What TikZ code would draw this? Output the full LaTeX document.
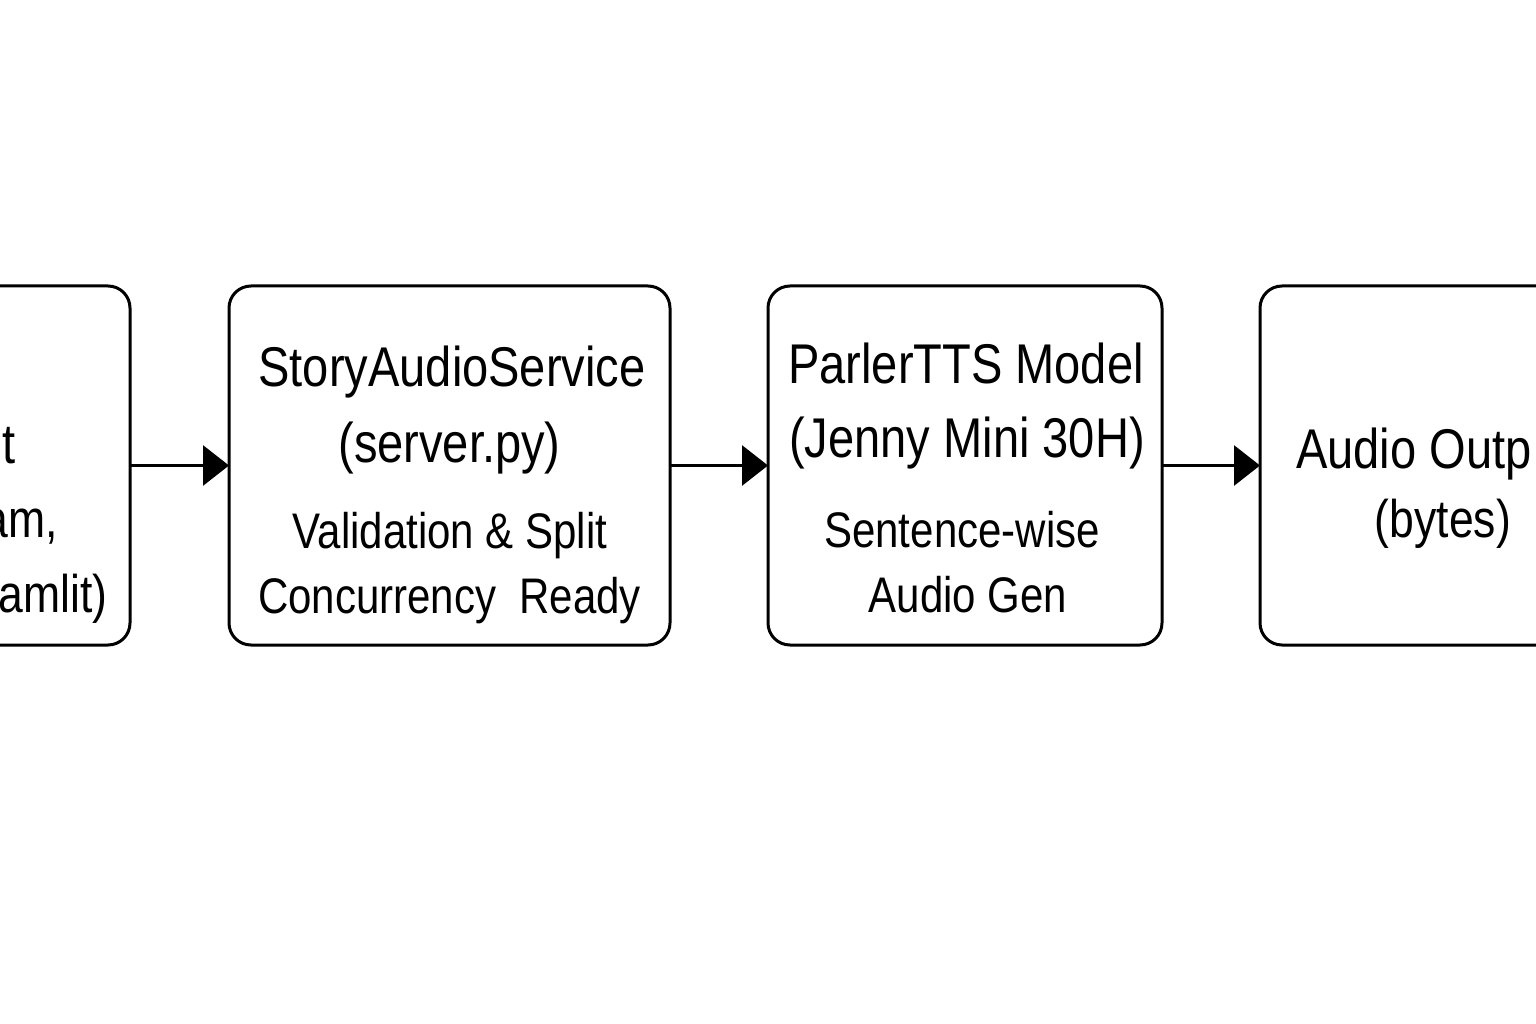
\documentclass[tikz,border=0pt]{standalone}
\usepackage{fontspec}
\setmainfont{Liberation Sans}[FakeStretch=0.84]
\usetikzlibrary{arrows.meta}

\newcommand{\hdfont}{\fontsize{56}{76}\selectfont}
\newcommand{\subfont}{\fontsize{50}{65}\selectfont}

\begin{document}
\begin{tikzpicture}[x=1pt, y=-1pt,
	box/.style={draw=black, line width=3pt, rounded corners=22pt, minimum height=359pt, inner sep=0pt, outer sep=0pt},
	hd/.style={font=\hdfont, anchor=base, inner sep=0pt},
	sub/.style={font=\subfont, anchor=base, inner sep=0pt},
	flow/.style={line width=3pt, -{Triangle[length=26pt,width=40pt]}}]

\useasboundingbox (0,0) rectangle (1536,1024);
\clip (0,0) rectangle (1536,1024);

% Boxes
\node[box, minimum width=400pt] (client) at (-70,465.5) {};
\node[box, minimum width=441pt] (service) at (449.5,465.5) {};
\node[box, minimum width=394pt] (model) at (965,465.5) {};
\node[box, minimum width=366pt] (output) at (1443,465.5) {};

% Client (cut at the left edge)
\node[hd, anchor=base east] (client1) at (16,463) {t};
\node[sub, font=\fontsize{53}{65}\selectfont, anchor=base east] (client2) at (58,537) {am,};
\node[sub, font=\fontsize{53}{65}\selectfont, anchor=base east] (client3) at (108,612) {amlit)};

% Service
\node[hd] (service1) at (452,386) {StoryAudioService};
\node[hd] (service2) at (449.5,462) {(server.py)};
\node[sub] (service3) at (450,548) {Validation \& Split};
\node[sub] (service4) at (449.5,613) {Concurrency\ \ Ready};

% Model
\node[hd] (model1) at (966,383) {ParlerTTS Model};
\node[hd] (model2) at (967,457) {(Jenny Mini 30H)};
\node[sub] (model3) at (962,547) {Sentence-wise};
\node[sub] (model4) at (968,612) {Audio Gen};

% Output (cut at the right edge)
\node[hd, anchor=base west] (output1) at (1296,468) {Audio Outp};
\node[sub, font=\fontsize{53}{65}\selectfont] (output2) at (1443,537) {(bytes)};

% Connections
\draw[flow] (client) -- (service);
\draw[flow] (service) -- (model);
\draw[flow] (model) -- (output);
\end{tikzpicture}
\end{document}
